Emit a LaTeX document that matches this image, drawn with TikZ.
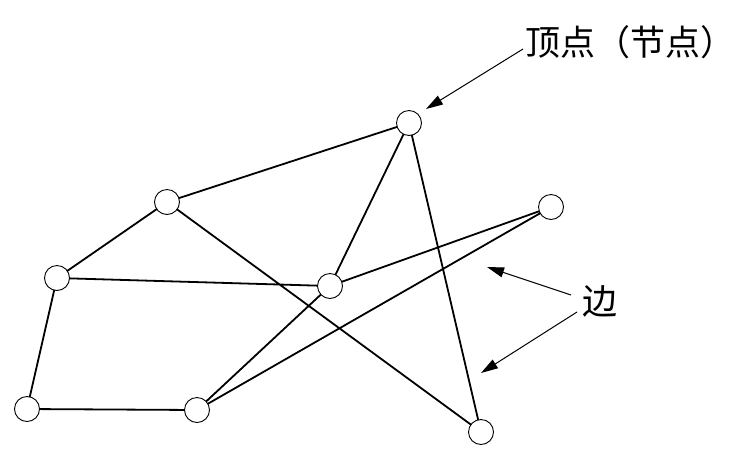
\documentclass[tikz,border=0pt]{standalone}
\usepackage{fontspec}
\newfontfamily\cjk{Noto Sans CJK SC}
\usetikzlibrary{arrows.meta}
\begin{document}
\begin{tikzpicture}[x=1pt,y=-1pt,
  vtx/.style={circle,draw,line width=0.9pt,minimum size=25pt,inner sep=0pt,fill=white},
  edge/.style={line width=1.8pt},
  pointer/.style={line width=1pt,-{Triangle[length=17pt,width=10pt]}},
  lbl/.style={font=\cjk\fontsize{35}{37}\selectfont,inner sep=0pt}]
\useasboundingbox (0,0) rectangle (738,459);
\coordinate (pA) at (409,123);
\coordinate (pB) at (167,202);
\coordinate (pC) at (551,207);
\coordinate (pD) at (57,278);
\coordinate (pE) at (330,286);
\coordinate (pF) at (27,409);
\coordinate (pG) at (197,410);
\coordinate (pH) at (481,432);
\draw[edge] (pB)--(pA) (pA)--(pE) (pA)--(pH) (pB)--(pD) (pB)--(pH) (pD)--(pE)
  (pE)--(pC) (pD)--(pF) (pF)--(pG) (pG)--(pE) (pG)--(pC);
\foreach \n in {A,B,C,D,E,F,G,H} \node[vtx] (\n) at (p\n) {};
\node[lbl,anchor=west] (t1) at (525,42) {顶点（节点）};
\node[lbl] (t2) at (600,301) {边};
\coordinate (s1) at (523,49);
\coordinate (e1) at (426,109);
\coordinate (s2) at (571,295);
\coordinate (e2) at (487,267);
\coordinate (s3) at (577,312);
\coordinate (e3) at (481,373);
\draw[pointer] (s1)--(e1);
\draw[pointer] (s2)--(e2);
\draw[pointer] (s3)--(e3);
\end{tikzpicture}
\end{document}
